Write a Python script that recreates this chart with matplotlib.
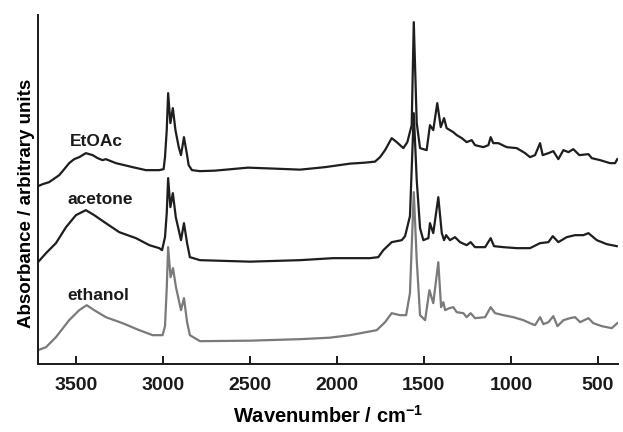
#!/usr/bin/env python3
"""
Stacked IR spectra of the sample after treatment with three solvents.

Output:
  out.png (623x432 px)
"""

from __future__ import annotations

import matplotlib

matplotlib.use("Agg")
import matplotlib.pyplot as plt

# Wavenumber (cm^-1) / absorbance (arbitrary units, already offset for stacking)
etoac_wn = [3718, 3691, 3654, 3596, 3567, 3539, 3510, 3481, 3443, 3404, 3375, 3347,
            3328, 3270, 3174, 3098, 3021, 2996, 2988, 2978, 2970, 2957, 2943, 2928,
            2909, 2896, 2879, 2863, 2852, 2833, 2787, 2701, 2511, 2356, 2212, 2068,
            1925, 1838, 1781, 1752, 1723, 1685, 1656, 1618, 1595, 1570, 1558,
            1541, 1522, 1484, 1465, 1446, 1423, 1403, 1384, 1369, 1331, 1311, 1282,
            1254, 1225, 1206, 1158, 1129, 1116, 1101, 1072, 1024, 966, 918, 890,
            861, 832, 817, 784, 756, 727, 698, 669, 641, 606, 554, 535, 487, 430,
            401, 388]
etoac_abs = [1.78, 1.80, 1.82, 1.89, 1.95, 2.01, 2.05, 2.07, 2.11, 2.09, 2.06, 2.04,
             2.05, 2.01, 1.97, 1.94, 1.94, 1.95, 2.07, 2.34, 2.71, 2.41, 2.56, 2.34,
             2.17, 2.09, 2.27, 2.11, 1.99, 1.94, 1.93, 1.935, 1.965, 1.955, 1.945, 1.97,
             2.005, 2.015, 2.025, 2.07, 2.14, 2.26, 2.22, 2.16, 2.22, 2.39, 3.42,
             2.41, 2.16, 2.14, 2.39, 2.34, 2.61, 2.37, 2.46, 2.36, 2.32, 2.29, 2.26,
             2.22, 2.24, 2.19, 2.17, 2.19, 2.27, 2.21, 2.21, 2.17, 2.16, 2.11, 2.07,
             2.09, 2.21, 2.09, 2.11, 2.13, 2.05, 2.14, 2.12, 2.15, 2.09, 2.10, 2.06,
             2.04, 2.01, 2.01, 2.05]

acetone_wn = [3718, 3672, 3615, 3557, 3500, 3443, 3395, 3328, 3251, 3155, 3078, 3021,
              3005, 2988, 2978, 2970, 2957, 2943, 2926, 2896, 2879, 2861, 2845, 2787,
              2499, 2212, 2022, 1810, 1762, 1733, 1685, 1627, 1608, 1580, 1558, 1541,
              1522, 1503, 1474, 1465, 1446, 1417, 1397, 1384, 1372, 1350, 1321, 1292,
              1254, 1231, 1206, 1148, 1116, 1097, 1043, 966, 890, 832, 784, 759, 727,
              679, 631, 583, 554, 506, 449, 391]
acetone_abs = [1.02, 1.11, 1.21, 1.37, 1.49, 1.54, 1.49, 1.41, 1.32, 1.26, 1.19, 1.16,
               1.14, 1.27, 1.51, 1.86, 1.57, 1.71, 1.47, 1.24, 1.41, 1.21, 1.07, 1.04,
               1.025, 1.04, 1.06, 1.06, 1.07, 1.14, 1.22, 1.24, 1.28, 1.48, 2.51, 1.84,
               1.36, 1.24, 1.26, 1.41, 1.31, 1.67, 1.31, 1.24, 1.29, 1.24, 1.27, 1.22,
               1.19, 1.22, 1.17, 1.17, 1.26, 1.18, 1.17, 1.16, 1.16, 1.21, 1.22, 1.28,
               1.22, 1.27, 1.29, 1.29, 1.31, 1.24, 1.20, 1.18]

ethanol_wn = [3718, 3672, 3615, 3539, 3481, 3438, 3395, 3328, 3232, 3136, 3059, 3002,
              2988, 2978, 2970, 2956, 2942, 2925, 2896, 2879, 2861, 2845, 2787, 2499,
              2212, 2040, 1925, 1771, 1723, 1685, 1637, 1602, 1580, 1558, 1541, 1522,
              1493, 1468, 1446, 1417, 1401, 1388, 1378, 1353, 1331, 1311, 1273, 1254,
              1231, 1206, 1148, 1116, 1091, 1043, 986, 928, 890, 861, 832, 813, 784,
              756, 732, 698, 660, 631, 602, 554, 526, 477, 420, 388]
ethanol_abs = [0.14, 0.17, 0.27, 0.44, 0.54, 0.59, 0.54, 0.47, 0.41, 0.34, 0.29, 0.29,
               0.38, 0.76, 1.17, 0.87, 0.96, 0.77, 0.54, 0.66, 0.42, 0.29, 0.23, 0.235,
               0.25, 0.265, 0.29, 0.34, 0.42, 0.51, 0.49, 0.49, 0.71, 1.72, 1.04, 0.49,
               0.44, 0.74, 0.61, 1.02, 0.57, 0.62, 0.54, 0.56, 0.57, 0.52, 0.51, 0.47,
               0.51, 0.46, 0.47, 0.57, 0.51, 0.49, 0.47, 0.44, 0.41, 0.39, 0.47, 0.40,
               0.42, 0.48, 0.38, 0.44, 0.46, 0.47, 0.42, 0.46, 0.41, 0.38, 0.36, 0.41]

xticks = [3500, 3000, 2500, 2000, 1500, 1000, 500]

FONT = ["Liberation Sans", "DejaVu Sans"]


def plot_spectra() -> plt.Figure:
    fig = plt.figure(figsize=(6.23, 4.32), dpi=100)
    ax = fig.add_axes([0.061, 0.157, 0.931, 0.808])

    line_kw = dict(linewidth=1.6, solid_joinstyle="round")
    ax.plot(ethanol_wn, ethanol_abs, color="#7a7a7a", **line_kw)
    ax.plot(acetone_wn, acetone_abs, color="#1e1e1e", **line_kw)
    ax.plot(etoac_wn, etoac_abs, color="#1e1e1e", **line_kw)

    # solvent labels next to the O-H band
    label_kw = dict(fontsize=12.5, fontweight="bold", family=FONT,
                    ha="center", va="center", color="#1a1a1a")
    ax.text(3385, 2.23, "EtOAc", **label_kw)
    ax.text(3362, 1.65, "acetone", **label_kw)
    ax.text(3373, 0.69, "ethanol", **label_kw)

    ax.set_xlim(3718, 384)
    ax.set_ylim(0, 3.49)
    ax.set_xticks(xticks)
    ax.set_yticks([])

    for side in ("top", "right"):
        ax.spines[side].set_visible(False)
    for side in ("left", "bottom"):
        ax.spines[side].set_linewidth(1.4)
        ax.spines[side].set_color("#1a1a1a")

    ax.tick_params(axis="x", direction="in", length=5.5, width=1.4,
                   pad=9, colors="#1a1a1a")
    for lab in ax.get_xticklabels():
        lab.set_fontsize(14)
        lab.set_fontweight("bold")
        lab.set_family(FONT)

    ax.set_xlabel("Wavenumber / cm$^{\\mathbf{-1}}$", fontsize=14.5,
                  fontweight="bold", family=FONT, labelpad=8)
    ax.set_ylabel("Absorbance / arbitrary units", fontsize=13.5,
                  fontweight="bold", family=FONT)
    ax.yaxis.set_label_coords(-0.006, 0.462)
    return fig


def main() -> None:
    plt.rcParams["mathtext.fontset"] = "custom"
    plt.rcParams["mathtext.bf"] = "Liberation Sans:bold"
    plt.rcParams["mathtext.rm"] = "Liberation Sans:bold"
    fig = plot_spectra()
    fig.savefig("out.png", dpi=100)
    plt.close(fig)


if __name__ == "__main__":
    main()
